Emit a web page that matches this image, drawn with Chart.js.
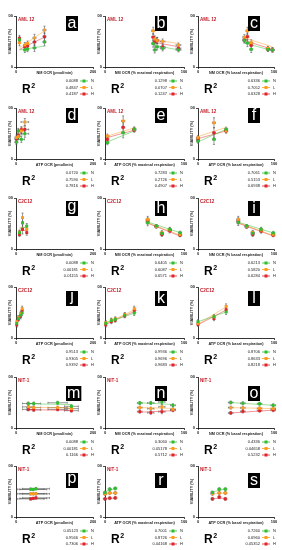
<!DOCTYPE html>
<html>
<head>
<meta charset="utf-8">
<script src="https://cdn.jsdelivr.net/npm/chart.js@4.4.1/dist/chart.umd.min.js"></script>
<style>
body { margin: 0; background: #fff; width: 282px; height: 550px; overflow: hidden; position: relative; }
canvas { position: absolute; }
</style>
</head>
<body>
<script>
// values: x positions, N / L / H viability, errors, fit ends, R2
const aX = [9, 23, 30, 48, 74];
const aN = [107, 67, 70, 75, 98];
const aL = [95, 86, 92, 114, 145];
const aH = [112, 79, 82, 98, 119];
const aEx = [3, 3, 3, 4, 4];
const aEy = [12, 10, 10, 14, 15];
const aFit = [[9, 74], [67, 82], [75, 142], [69, 117]];
const aR2 = ['0.0088', '0.4847', '0.4187'];

const bX = [61, 63, 66, 73, 93];
const bN = [92, 67, 79, 73, 67];
const bL = [142, 110, 104, 100, 86];
const bH = [117, 98, 104, 79, 73];
const bEx = [2, 2, 2, 3, 3];
const bEy = [14, 12, 12, 10, 8];
const bFit = [[61, 93], [86, 67], [107, 92], [98, 79]];
const bR2 = ['0.1298', '0.0707', '0.1247'];

const cX = [61, 65, 70, 92, 98];
const cN = [104, 94, 69, 69, 67];
const cL = [117, 142, 95, 73, 67];
const cH = [107, 119, 85, 70, 67];
const cEx = [2, 2, 2, 2, 2];
const cEy = [10, 14, 12, 8, 8];
const cFit = [[61, 98], [94, 64], [114, 79], [104, 69]];
const cR2 = ['0.6336', '0.7052', '0.6328'];

const dX = [1, 6, 14, 23];
const dN = [66, 110, 77, 99];
const dL = [84, 88, 110, 145];
const dH = [78, 92, 115, 116];
const dEx = [4, 4, 8, 10];
const dEy = [10, 10, 12, 14];
const dFit = [[0, 23], [71, 103], [84, 136], [78, 124]];
const dR2 = ['0.0720', '0.7590', '0.7816'];

const eX = [3, 23, 37];
const eN = [64, 103, 117];
const eL = [90, 149, 117];
const eH = [77, 124, 113];
const eEx = [2, 2, 2];
const eEy = [8, 20, 8];
const eFit = [[3, 37], [67, 110], [90, 122], [84, 113]];
const eR2 = ['0.7283', '0.2726', '0.4907'];

const fX = [0, 21, 37];
const fN = [70, 77, 117];
const fL = [84, 142, 110];
const fH = [78, 103, 110];
const fEx = [2, 2, 2];
const fEy = [8, 20, 8];
const fFit = [[0, 37], [67, 117], [88, 124], [80, 110]];
const fR2 = ['0.7061', '0.5153', '0.6938'];

const gX = [9, 17, 28];
const gN = [64, 103, 90];
const gL = [66, 123, 77];
const gH = [57, 77, 64];
const gEx = [2, 2, 2];
const gEy = [8, 18, 10];
const gFit = [[9, 28], [80, 87], [85, 84], [74, 72]];
const gR2 = ['0.0088', '0.00181', '0.01155'];

const hX = [54, 65, 72, 82, 95];
const hN = [103, 90, 61, 77, 64];
const hL = [116, 88, 64, 75, 57];
const hH = [110, 88, 57, 71, 54];
const hEx = [2, 2, 2, 2, 2];
const hEy = [12, 6, 8, 8, 6];
const hFit = [[54, 95], [106, 64], [103, 54], [101, 51]];
const hR2 = ['0.6405', '0.6087', '0.6571'];

const iX = [53, 64, 72, 83, 99];
const iN = [104, 90, 62, 77, 63];
const iL = [116, 88, 65, 74, 57];
const iH = [110, 87, 57, 70, 54];
const iEx = [2, 2, 2, 2, 2];
const iEy = [12, 6, 8, 8, 6];
const iFit = [[53, 99], [105, 63], [103, 53], [101, 51]];
const iR2 = ['0.6213', '0.5820', '0.6284'];

const jX = [2, 6, 12, 16];
const jN = [57, 76, 89, 98];
const jL = [64, 80, 96, 115];
const jH = [51, 73, 85, 108];
const jEx = [1, 1, 1, 1];
const jEy = [8, 8, 10, 10];
const jFit = [[0, 17], [60, 98], [55, 115], [50, 110]];
const jR2 = ['0.9513', '0.9305', '0.9392'];

const kX = [1, 8, 13, 25, 37];
const kN = [57, 68, 73, 89, 98];
const kL = [60, 70, 75, 92, 115];
const kH = [51, 64, 70, 87, 108];
const kEx = [1, 1, 1, 1, 1];
const kEy = [8, 8, 8, 8, 10];
const kFit = [[0, 40], [60, 100], [55, 115], [52, 108]];
const kR2 = ['0.9936', '0.9696', '0.9683'];

const lX = [0, 21, 37];
const lN = [64, 83, 102];
const lL = [57, 83, 124];
const lH = [53, 76, 111];
const lEx = [1, 1, 1];
const lEy = [8, 8, 10];
const lFit = [[0, 37], [64, 102], [55, 122], [52, 110]];
const lR2 = ['0.8706', '0.8633', '0.8218'];

const mX = [32, 46, 108, 144];
const mN = [96, 96, 99, 85];
const mL = [83, 80, 80, 76];
const mH = [73, 71, 73, 68];
const mEx = [15, 18, 25, 18];
const mEy = [6, 6, 6, 6];
const mFit = [[32, 144], [95, 92], [81, 79], [72, 69]];
const mR2 = ['0.0088', '0.00181', '0.1166'];

const nX = [44, 58, 72, 86];
const nN = [98, 98, 102, 89];
const nL = [80, 76, 83, 73];
const nH = [64, 60, 64, 70];
const nEx = [3, 4, 4, 3];
const nEy = [6, 6, 8, 6];
const nFit = [[44, 86], [99, 92], [80, 77], [62, 68]];
const nR2 = ['0.3060', '0.05178', '0.5712'];

const oX = [43, 59, 81, 99];
const oN = [100, 97, 95, 89];
const oL = [80, 79, 77, 76];
const oH = [59, 65, 68, 70];
const oEx = [3, 3, 3, 3];
const oEy = [6, 6, 6, 6];
const oFit = [[43, 99], [100, 89], [80, 76], [59, 70]];
const oR2 = ['0.4336', '0.04658', '0.5232'];

const pX = [38, 45, 52];
const pN = [109, 108, 111];
const pL = [91, 91, 91];
const pH = [71, 73, 75];
const pEx = [35, 35, 35];
const pEy = [5, 5, 5];
const pFit = [[38, 52], [108, 111], [91, 92], [71, 75]];
const pR2 = ['0.05123', '0.9566', '0.7306'];

const rX = [0, 6, 13];
const rN = [96, 109, 112];
const rL = [90, 94, 94];
const rH = [71, 74, 75];
const rEx = [2, 2, 2];
const rEy = [6, 6, 6];
const rFit = [[0, 13], [100, 112], [90, 94], [71, 74]];
const rR2 = ['0.7001', '0.8726', '0.04168'];

const sX = [19, 28, 36];
const sN = [96, 109, 109];
const sL = [91, 94, 94];
const sH = [71, 78, 71];
const sEx = [2, 2, 2];
const sEy = [6, 6, 6];
const sFit = [[19, 36], [98, 111], [91, 94], [72, 74]];
const sR2 = ['0.7260', '0.6960', '0.05352'];

const seriesNames = ['N', 'L', 'H'];
const colMax = [200, 100, 100];
const colUnit = ['(pmol/min)', '(% maximal respiration)', '(% basal respiration)'];
const rowCell = ['AML 12', 'AML 12', 'C2C12', 'C2C12', 'NIT-1', 'NIT-1'];
const rowMeasure = ['NM OCR', 'ATP OCR', 'NM OCR', 'ATP OCR', 'NM OCR', 'ATP OCR'];

// layout
const colAxis = [16, 105, 198];
const colWidth = [77, 79, 76];
const rowTop = [15, 107, 197, 286, 376, 465];
const rowBoxDy = [0, 0, 3, 4, 9, 7];
const plotH = 52;
const FONT = '"Liberation Sans", Arial, sans-serif';

const colors = ['#2dbf2d', '#ff9a1a', '#e3232b'];
const fitColors = ['rgba(45,191,45,0.6)', 'rgba(255,154,26,0.6)', 'rgba(227,35,43,0.6)'];

const panels = [
  ['a', aX, aN, aL, aH, aEx, aEy, aFit, aR2],
  ['b', bX, bN, bL, bH, bEx, bEy, bFit, bR2],
  ['c', cX, cN, cL, cH, cEx, cEy, cFit, cR2],
  ['d', dX, dN, dL, dH, dEx, dEy, dFit, dR2],
  ['e', eX, eN, eL, eH, eEx, eEy, eFit, eR2],
  ['f', fX, fN, fL, fH, fEx, fEy, fFit, fR2],
  ['g', gX, gN, gL, gH, gEx, gEy, gFit, gR2],
  ['h', hX, hN, hL, hH, hEx, hEy, hFit, hR2],
  ['i', iX, iN, iL, iH, iEx, iEy, iFit, iR2],
  ['j', jX, jN, jL, jH, jEx, jEy, jFit, jR2],
  ['k', kX, kN, kL, kH, kEx, kEy, kFit, kR2],
  ['l', lX, lN, lL, lH, lEx, lEy, lFit, lR2],
  ['m', mX, mN, mL, mH, mEx, mEy, mFit, mR2],
  ['n', nX, nN, nL, nH, nEx, nEy, nFit, nR2],
  ['o', oX, oN, oL, oH, oEx, oEy, oFit, oR2],
  ['p', pX, pN, pL, pH, pEx, pEy, pFit, pR2],
  ['r', rX, rN, rL, rH, rEx, rEy, rFit, rR2],
  ['s', sX, sN, sL, sH, sEx, sEy, sFit, sR2]
];

// error bars under the points
const errorBars = {
  id: 'errorBars',
  beforeDatasetsDraw(chart) {
    const ctx = chart.ctx, x = chart.scales.x, y = chart.scales.y;
    ctx.save();
    ctx.strokeStyle = '#555';
    ctx.lineWidth = 0.6;
    chart.data.datasets.forEach(ds => {
      if (!ds.errY) return;
      ds.data.forEach((p, i) => {
        const px = x.getPixelForValue(p.x), py = y.getPixelForValue(p.y);
        const y1 = y.getPixelForValue(p.y + ds.errY[i]), y2 = y.getPixelForValue(p.y - ds.errY[i]);
        const x1 = x.getPixelForValue(p.x - ds.errX[i]), x2 = x.getPixelForValue(p.x + ds.errX[i]);
        ctx.beginPath();
        ctx.moveTo(px, y1); ctx.lineTo(px, y2);
        ctx.moveTo(px - 1, y1); ctx.lineTo(px + 1, y1);
        ctx.moveTo(px - 1, y2); ctx.lineTo(px + 1, y2);
        ctx.moveTo(x1, py); ctx.lineTo(x2, py);
        ctx.moveTo(x1, py - 1); ctx.lineTo(x1, py + 1);
        ctx.moveTo(x2, py - 1); ctx.lineTo(x2, py + 1);
        ctx.stroke();
      });
    });
    ctx.restore();
  }
};

// cell label, letter box and the R2 block
const panelText = {
  id: 'panelText',
  afterDraw(chart, args, o) {
    const ctx = chart.ctx, ax = chart.chartArea.left, T = chart.chartArea.top;
    ctx.save();
    ctx.textAlign = 'left';
    ctx.textBaseline = 'middle';
    ctx.fillStyle = '#c0212b';
    ctx.font = 'bold 4.6px ' + FONT;
    ctx.fillText(o.cell, ax + 2, T + 4);

    ctx.font = '16px ' + FONT;
    const w = Math.max(12, ctx.measureText(o.letter).width + 2);
    const bx = ax + 50, by = T + o.boxDy;
    ctx.fillStyle = '#000';
    ctx.fillRect(bx, by, w, 15);
    ctx.fillStyle = '#fff';
    ctx.textAlign = 'center';
    ctx.textBaseline = 'alphabetic';
    ctx.fillText(o.letter, bx + w / 2, by + ('gjp'.includes(o.letter) ? 10 : 12));

    ctx.fillStyle = '#000';
    ctx.textAlign = 'left';
    ctx.font = 'bold 12px ' + FONT;
    ctx.fillText('R', ax + 6, T + 77);
    const rw = ctx.measureText('R').width;
    ctx.font = 'bold 7px ' + FONT;
    ctx.fillText('2', ax + 6.5 + rw, T + 72);

    ctx.font = '4px ' + FONT;
    ctx.textBaseline = 'middle';
    seriesNames.forEach((s, i) => {
      const yy = T + 65 + i * 6.5;
      ctx.fillStyle = '#222';
      ctx.textAlign = 'right';
      ctx.fillText(o.r2[i], ax + 62, yy);
      ctx.strokeStyle = colors[i];
      ctx.lineWidth = 0.8;
      ctx.beginPath();
      ctx.moveTo(ax + 64, yy); ctx.lineTo(ax + 72, yy);
      ctx.stroke();
      ctx.fillStyle = colors[i];
      ctx.fillRect(ax + 66.5, yy - 1.5, 3, 3);
      ctx.fillStyle = '#222';
      ctx.textAlign = 'left';
      ctx.fillText(s, ax + 75, yy);
    });
    ctx.restore();
  }
};

panels.forEach((p, idx) => {
  const row = Math.floor(idx / 3), col = idx % 3;
  const [letter, X, N, L, H, Ex, Ey, Fit, R2] = p;
  const cv = document.createElement('canvas');
  cv.width = 11 + colWidth[col] + 4;
  cv.height = 3 + plotH + 8 + 22;
  cv.style.left = (colAxis[col] - 11) + 'px';
  cv.style.top = (rowTop[row] - 3) + 'px';
  document.body.appendChild(cv);

  const datasets = [];
  [N, L, H].forEach((Y, s) => {
    datasets.push({
      data: X.map((x, i) => ({ x: x, y: Y[i] })),
      errX: Ex, errY: Ey,
      backgroundColor: colors[s], borderColor: colors[s],
      pointStyle: 'rect', pointRadius: 2, borderWidth: 0,
      clip: false, order: 0
    });
  });
  [N, L, H].forEach((Y, s) => {
    datasets.push({
      data: [{ x: Fit[0][0], y: Fit[s + 1][0] }, { x: Fit[0][1], y: Fit[s + 1][1] }],
      showLine: true, pointRadius: 0, borderColor: fitColors[s], borderWidth: 0.8,
      clip: false, order: 1
    });
  });

  new Chart(cv, {
    type: 'scatter',
    data: { datasets: datasets },
    options: {
      responsive: false,
      animation: false,
      layout: { padding: { top: 3, right: 4, left: 3, bottom: 22 } },
      plugins: {
        legend: { display: false },
        tooltip: { enabled: false },
        panelText: { cell: rowCell[row], letter: letter, r2: R2, boxDy: rowBoxDy[row] }
      },
      scales: {
        x: {
          min: 0, max: colMax[col],
          afterFit: s => { s.height = 8; },
          ticks: { stepSize: colMax[col], maxRotation: 0, padding: 0, color: '#222',
                   font: { size: 4, weight: 'bold', family: FONT } },
          grid: { drawOnChartArea: false, tickLength: 2, color: '#000', lineWidth: 0.7 },
          border: { color: '#000', width: 0.8 },
          title: { display: true, text: rowMeasure[row] + ' ' + colUnit[col], padding: 0, color: '#222',
                   font: { size: 3.8, weight: 'bold', family: FONT } }
        },
        y: {
          min: 0, max: 200,
          afterFit: s => { s.width = 8; },
          ticks: { stepSize: 200, padding: 1, color: '#222',
                   font: { size: 4, weight: 'bold', family: FONT } },
          grid: { drawOnChartArea: false, tickLength: 2, color: '#000', lineWidth: 0.7 },
          border: { color: '#000', width: 0.8 },
          title: { display: true, text: 'VIABILITY (%)', padding: 0, color: '#222',
                   font: { size: 3.8, weight: 'bold', family: FONT } }
        }
      }
    },
    plugins: [errorBars, panelText]
  });
});
</script>
</body>
</html>
